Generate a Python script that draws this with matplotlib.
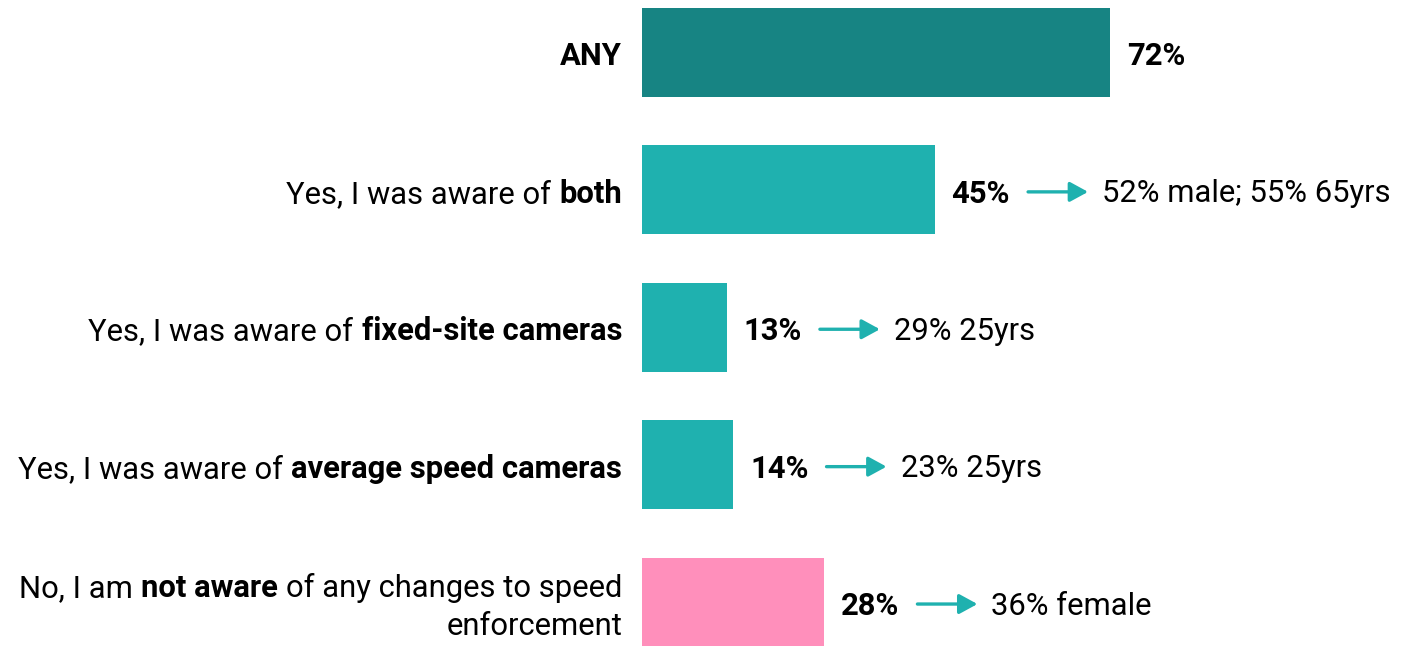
import re
import matplotlib
matplotlib.use("Agg")
import matplotlib.pyplot as plt
from matplotlib.text import OffsetFrom

plt.rcParams['font.family'] = ['Roboto', 'DejaVu Sans']

# --- dati ---
categories = [
    "**ANY**",
    "Yes, I was aware of **both**",
    "Yes, I was aware of **fixed-site cameras**",
    "Yes, I was aware of **average speed cameras**",
    "No, I am **not aware** of any changes to speed\nenforcement",
]
values = [72, 45, 13, 14, 28]
notes = ["", "52% male; 55% 65yrs", "29% 25yrs", "23% 25yrs", "36% female"]
colors = ["#178483", "#1FB1AF", "#1FB1AF", "#1FB1AF", "#FF8FBB"]
arrow_color = "#1FB1AF"

FS = 22.3
PX = 72 / 100  # pixel -> punti
DROP = -4 * PX  # testo leggermente sotto il centro della barra

fig = plt.figure(figsize=(14.04, 6.46), dpi=100)
ax = fig.add_axes([642 / 1404, 0, 1 - 642 / 1404, 1])
ypos = list(range(len(values)))
ax.barh(ypos, values, height=0.648, color=colors)
ax.set_xlim(0, 117.2)
ax.set_ylim(4.32, -0.382)
ax.axis('off')


def draw_label(yc, text):
    lines = text.split("\n")
    n = len(lines)
    for i, line in enumerate(lines):
        dy = -(i - (n - 1) / 2) * 38 * PX + DROP
        if n > 1:
            dy -= 1 * PX
        parts = [p for p in re.split(r"(\*\*.*?\*\*)", line) if p.strip()]
        prev = None
        for part in reversed(parts):
            bold = part.startswith("**")
            s = part.strip("*").strip()
            w = 'bold' if bold else 'normal'
            if prev is None:
                prev = ax.annotate(s, xy=(0, yc), xytext=(-20 * PX, dy),
                                   textcoords='offset points', ha='right',
                                   va='center', fontsize=FS, fontweight=w,
                                   annotation_clip=False)
            else:
                prev = ax.annotate(s, xy=(0, 0), xycoords=prev,
                                   xytext=(-0.26 * FS, 0),
                                   textcoords='offset points', ha='right',
                                   va='bottom', fontsize=FS, fontweight=w,
                                   annotation_clip=False)


for yc, cat, v, note in zip(ypos, categories, values, notes):
    draw_label(yc, cat)
    vt = ax.annotate(f"{v}%", xy=(v, yc), xytext=(17 * PX, DROP),
                     textcoords='offset points', ha='left', va='center',
                     fontsize=FS, fontweight='bold', annotation_clip=False)
    if note:
        off = OffsetFrom(vt, (1, 0.5), unit='points')
        ax.annotate("", xy=(78 * PX, 2 * PX), xycoords=off,
                    xytext=(18 * PX, 2 * PX), textcoords=off,
                    arrowprops=dict(arrowstyle='-|>,head_length=0.55,head_width=0.3',
                                    color=arrow_color, lw=2.4,
                                    shrinkA=0, shrinkB=0, mutation_scale=20),
                    annotation_clip=False)
        ax.annotate(note, xy=((78 + 14) * PX, 0), xycoords=off,
                    ha='left', va='center', fontsize=FS,
                    annotation_clip=False)

fig.savefig("out.png", dpi=100)
